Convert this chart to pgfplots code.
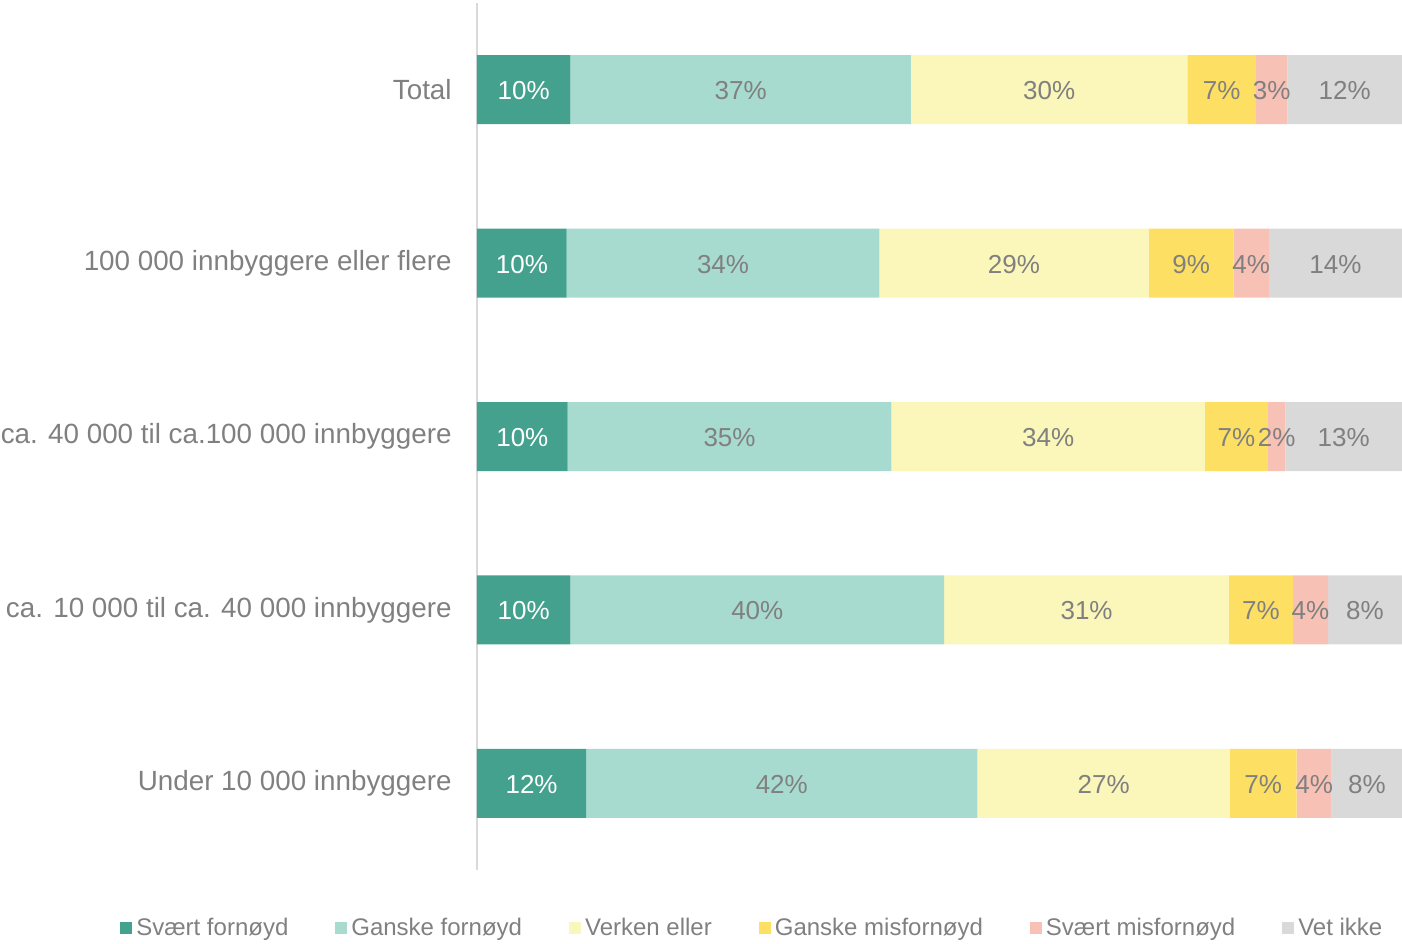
\documentclass[border=0pt]{standalone}
\usepackage{fontspec}
\setmainfont{Liberation Sans}
\usepackage{pgfplots}
\usepackage{pgfplotstable}
\pgfplotsset{compat=1.18}
\definecolor{c1}{HTML}{43A18D}
\definecolor{c2}{HTML}{A8DBCF}
\definecolor{c3}{HTML}{FBF6BA}
\definecolor{c4}{HTML}{FDE063}
\definecolor{c5}{HTML}{F8C1B6}
\definecolor{c6}{HTML}{D9D9D9}
\definecolor{txt}{HTML}{808080}
\definecolor{axisc}{HTML}{D9D9D9}
\pgfplotstableread{
y v1 v2 v3 v4 v5 v6
4 10.1 36.8 29.9 7.4 3.4 12.4
3 9.7 33.8 29.1 9.2 3.8 14.4
2 9.8 35.0 33.9 6.8 1.9 12.6
1 10.1 40.4 30.8 6.9 3.8 8.0
0 11.8 42.3 27.3 7.2 3.8 7.6
}\data
\begin{document}
\begin{tikzpicture}
\pgfplotsset{base/.style={width=462.5pt,height=433.5pt,scale only axis,xmin=0,xmax=100,ymin=-0.5,ymax=4.5}}
\begin{axis}[base, xbar stacked, bar width=34.5pt,
  axis x line=none, axis y line*=left,
  y axis line style={draw=axisc, line width=1pt},
  xtick=\empty,
  ytick={0,1,2,3,4},
  yticklabels={Under 10 000 innbyggere, ca. 10 000 til ca. 40 000 innbyggere, ca. 40 000 til ca.100 000 innbyggere, 100 000 innbyggere eller flere, Total},
  major tick length=0pt,
  yticklabel style={font=\fontsize{13.9}{16}\selectfont, text=txt, inner sep=0pt, xshift=-12.5pt},
  legend style={at={(-0.386,-0.067)}, anchor=west, draw=none, fill=none, inner sep=0pt,
    font=\fontsize{12}{14}\selectfont, text=txt, legend columns=6,
    nodes={inner sep=2pt},
    /tikz/every even column/.append style={column sep=21.5pt}},
  legend image code/.code={\fill[#1] (0pt,-3pt) rectangle (6pt,3pt);},
]
\addplot[fill=c1, draw=none] table[x=v1,y=y]{\data};
\addplot[fill=c2, draw=none] table[x=v2,y=y]{\data};
\addplot[fill=c3, draw=none] table[x=v3,y=y]{\data};
\addplot[fill=c4, draw=none] table[x=v4,y=y]{\data};
\addplot[fill=c5, draw=none] table[x=v5,y=y]{\data};
\addplot[fill=c6, draw=none] table[x=v6,y=y]{\data};
\legend{Svært fornøyd, Ganske fornøyd, Verken eller, Ganske misfornøyd, Svært misfornøyd, Vet ikke}
\end{axis}
\begin{axis}[base, hide axis,
  /pgf/number format/assume math mode=true,
  nodes near coords={\pgfmathprintnumber[fixed,precision=0,assume math mode=true]{\pgfplotspointmeta}\%},
  point meta=explicit,
  every node near coord/.append style={anchor=center, inner sep=0pt, yshift=-0.5pt, font=\fontsize{13}{15}\selectfont, text=txt},
]
\addplot[only marks, mark=none, every node near coord/.append style={text=white}] table[x expr=\thisrow{v1}/2, y=y, meta=v1]{\data};
\addplot[only marks, mark=none] table[x expr=\thisrow{v1}+\thisrow{v2}/2, y=y, meta=v2]{\data};
\addplot[only marks, mark=none] table[x expr=\thisrow{v1}+\thisrow{v2}+\thisrow{v3}/2, y=y, meta=v3]{\data};
\addplot[only marks, mark=none] table[x expr=\thisrow{v1}+\thisrow{v2}+\thisrow{v3}+\thisrow{v4}/2, y=y, meta=v4]{\data};
\addplot[only marks, mark=none] table[x expr=\thisrow{v1}+\thisrow{v2}+\thisrow{v3}+\thisrow{v4}+\thisrow{v5}/2, y=y, meta=v5]{\data};
\addplot[only marks, mark=none] table[x expr=\thisrow{v1}+\thisrow{v2}+\thisrow{v3}+\thisrow{v4}+\thisrow{v5}+\thisrow{v6}/2, y=y, meta=v6]{\data};
\end{axis}
\pgfresetboundingbox
\path (-238.5pt,-36.5pt) rectangle (462.5pt,435pt);
\end{tikzpicture}
\end{document}
